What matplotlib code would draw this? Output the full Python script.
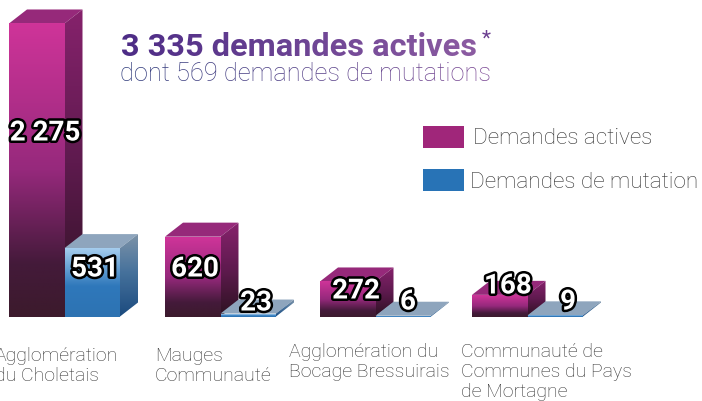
import numpy as np
import matplotlib
matplotlib.use("Agg")
import matplotlib.pyplot as plt
from matplotlib.colors import LinearSegmentedColormap, to_rgb
from matplotlib.patches import Polygon, Rectangle
import matplotlib.patheffects as pe

categories = ["Agglomération\ndu Choletais", "Mauges\nCommunauté",
              "Agglomération du\nBocage Bressuirais",
              "Communauté de\nCommunes du Pays\nde Mortagne"]
series_names = ["Demandes actives", "Demandes de mutation"]
actives = [2275, 620, 272, 168]
mutations = [531, 23, 6, 9]
active_labels = ["2 275", "620", "272", "168"]
mutation_labels = ["531", "23", "6", "9"]
title_main = "3 335 demandes actives"
title_sub = "dont 569 demandes de mutations"

# layout (pixels)
W, H = 702, 402
BASE = 317.5
PX_PER_UNIT = 0.1288
group_left = [9, 165, 320, 472]
bar_w = 55.5
DX, DY = 18, 14
active_label_xy = [(45, 134), (195, 270), (356, 292), (508, 287)]
mut_label_xy = [(95, 270), (256, 304), (408, 303), (568, 303)]
cat_label_xy = [(-5, 347), (155, 347), (289, 343), (461, 343)]

plt.rcParams["font.family"] = ["Roboto", "DejaVu Sans"]

fig = plt.figure(figsize=(W / 100, H / 100), dpi=100)
ax = fig.add_axes([0, 0, 1, 1])
ax.set_xlim(0, W)
ax.set_ylim(-(H - BASE) / PX_PER_UNIT, BASE / PX_PER_UNIT)
ax.axis("off")


def py(p):
    return (BASE - p) / PX_PER_UNIT


dy = DY / PX_PER_UNIT
z = [2.0]


def grad_poly(pts, stops, y0, y1):
    cmap = LinearSegmentedColormap.from_list("g", stops)
    xs = [p[0] for p in pts]
    g = np.linspace(0, 1, 256).reshape(-1, 1)
    z[0] += 0.01
    im = ax.imshow(g, cmap=cmap, aspect="auto", origin="upper", vmin=0, vmax=1,
                   extent=(min(xs), max(xs), y0, y1), zorder=z[0], interpolation="bilinear")
    poly = Polygon(pts, closed=True, transform=ax.transData, fc="none", ec="none")
    ax.add_patch(poly)
    im.set_clip_path(poly)


def bar3d(x, v, front, side, top):
    w = bar_w
    top_pts = [(x, v), (x + w, v), (x + w + DX, v + dy), (x + DX, v + dy)]
    z[0] += 0.01
    ax.add_patch(Polygon(top_pts, closed=True, fc=top, ec="none", zorder=z[0]))
    side_pts = [(x + w, 0), (x + w + DX, dy), (x + w + DX, v + dy), (x + w, v)]
    grad_poly(side_pts, side, 0, v + dy)
    grad_poly([(x, 0), (x + w, 0), (x + w, v), (x, v)], front, 0, v)


front_a = [(0, "#cf3499"), (0.5, "#96297c"), (0.82, "#441a3a"), (1, "#3c1a2c")]
side_a = [(0, "#86226c"), (0.5, "#5e1a4e"), (1, "#2c1220")]
front_m = [(0, "#a5cdee"), (0.55, "#2f78bb"), (1, "#2d73b2")]
side_m = [(0, "#7d93a8"), (0.45, "#47729c"), (1, "#1a4a7e")]
top_a = "#96297a"
top_m = "#8ea5bd"

for i, x in enumerate(group_left):
    bar3d(x, actives[i], front_a, side_a, top_a)
    bar3d(x + bar_w, mutations[i], front_m, side_m, top_m)

# value labels
for lab, (lx, ly) in zip(active_labels + mutation_labels, active_label_xy + mut_label_xy):
    ax.text(lx, py(ly), lab, ha="center", va="center", color="white", fontsize=20,
            fontweight="bold", zorder=5,
            path_effects=[pe.withStroke(linewidth=3.6, foreground="black")])

# category labels
for lab, (lx, ly) in zip(categories, cat_label_xy):
    ax.text(lx, py(ly), lab, ha="left", va="top", color="#333333",
            fontsize=14, fontweight="light", linespacing=1.16, zorder=4,
            clip_on=False)


def gradient_filter(c0, c1):
    a, b = np.array(to_rgb(c0)), np.array(to_rgb(c1))

    def f(img, dpi):
        n = img.shape[1]
        t = np.linspace(0, 1, n).reshape(1, -1, 1)
        out = img.copy()
        out[:, :, :3] = a * (1 - t) + b * t
        return out, 0, 0
    return f


t1 = ax.text(121, py(47), title_main, ha="left", va="center", fontsize=23.4,
             fontweight="bold", color="#5f3a8c", zorder=4)
t1.set_agg_filter(gradient_filter("#4d2c86", "#8c5ca2"))
t2 = ax.text(120, py(74), title_sub, ha="left", va="center", fontsize=18.3,
             fontweight="light", color="#5f4a8c", zorder=4)
t2.set_agg_filter(gradient_filter("#2f3c7c", "#7d4a96"))
ax.text(486, py(39), "*", ha="center", va="center", fontsize=15, color="#6b3f90", zorder=4)

# legend
for (x0, y0, c, name, tx) in [(423, 127, "#a0267a", series_names[0], 473),
                              (423, 170, "#2873b6", series_names[1], 470)]:
    ax.add_patch(Rectangle((x0, py(y0 + 22)), 41, 22 / PX_PER_UNIT, fc=c, ec="none", zorder=4))
    ax.text(tx, py(y0 + 12), name, ha="left", va="center", fontsize=16.2,
            fontweight="light", color="#333333", zorder=4)

fig.savefig("out.png", dpi=100, facecolor="white")
